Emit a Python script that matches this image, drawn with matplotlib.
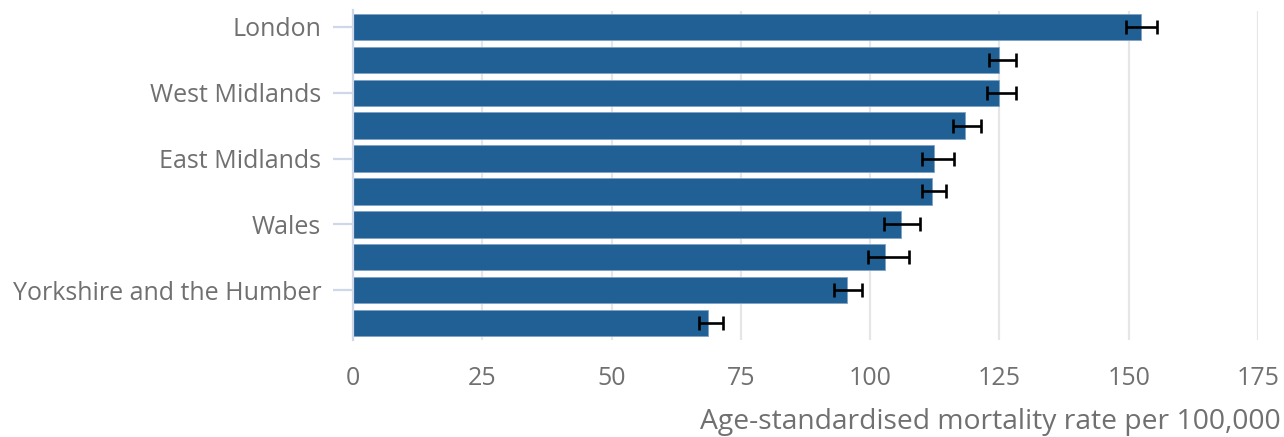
import matplotlib.pyplot as plt
import numpy as np

# ── Data ──────────────────────────────────────────────────────────────────────
regions = ["London", "", "West Midlands", "", "East Midlands", "",
           "Wales", "", "Yorkshire and the Humber", ""]
rates   = [152.4, 125.0, 125.0, 118.4, 112.4, 112.0, 105.9, 102.9, 95.5, 68.7]
ci_low  = [149.5, 123.0, 122.6, 116.0, 110.1, 110.0, 102.7, 99.6, 93.1, 67.0]
ci_high = [155.5, 128.3, 128.3, 121.4, 116.2, 114.6, 109.7, 107.6, 98.4, 71.6]

BLUE  = "#206095"
GREY  = "#707070"
LINE  = "#cfd8e8"

plt.rcParams["font.family"] = ["Open Sans", "DejaVu Sans"]

fig = plt.figure(figsize=(12.84, 4.37), dpi=100)
ax = fig.add_axes([353 / 1284, 97.5 / 437, 905 / 1284, 329 / 437])

y = np.arange(len(rates))
rates_arr = np.array(rates)
err = [rates_arr - np.array(ci_low), np.array(ci_high) - rates_arr]

ax.barh(y, rates, height=0.8, color=BLUE, edgecolor="#7fa3c4",
        linewidth=0.6, zorder=2)
ax.errorbar(rates, y, xerr=err, fmt="none", ecolor="black",
            elinewidth=1.9, capsize=4.8, capthick=1.9, zorder=3)

ax.set_xlim(0, 175)
ax.set_ylim(len(rates) - 0.5, -0.5)
ax.set_xticks(np.arange(0, 176, 25))

shown = [i for i, r in enumerate(regions) if r]
ax.set_yticks(shown)
ax.set_yticklabels([regions[i] for i in shown])

ax.grid(axis="x", color="#e6e6e6", linewidth=1.6, zorder=0)
ax.set_axisbelow(True)

for s in ["top", "right", "bottom"]:
    ax.spines[s].set_visible(False)
ax.spines["left"].set_color(LINE)
ax.spines["left"].set_linewidth(1.6)
ax.spines["left"].set_zorder(4)

ax.tick_params(axis="x", length=0, pad=19, labelsize=18, labelcolor=GREY)
ax.tick_params(axis="y", length=14.4, width=1.6, color=LINE, pad=8.5,
               labelsize=18, labelcolor=GREY)

ax.set_xlabel("Age-standardised mortality rate per 100,000",
              fontsize=20.3, color=GREY, ha="right", va="center")
ax.xaxis.set_label_coords(1.025, -0.25)

fig.savefig("out.png", dpi=100)
